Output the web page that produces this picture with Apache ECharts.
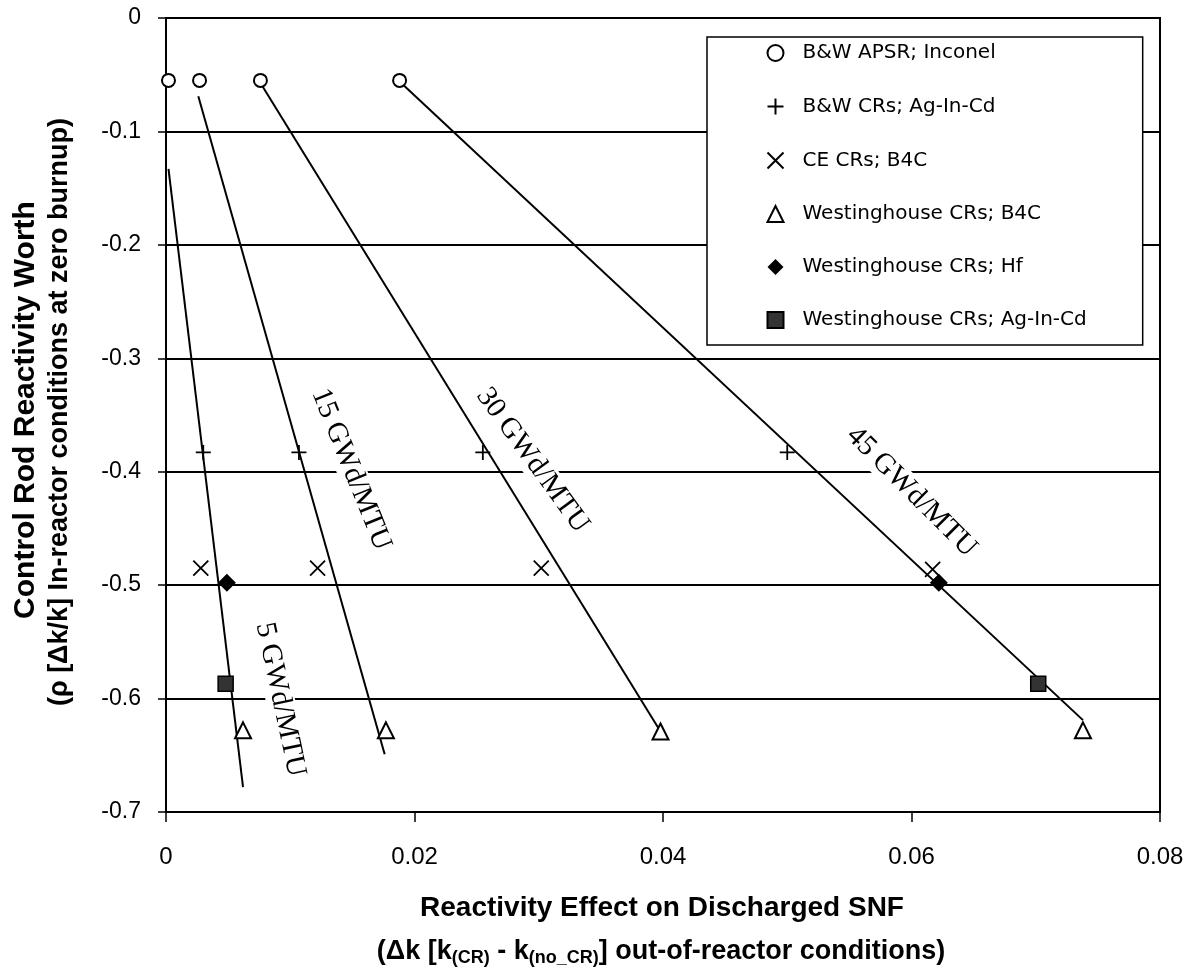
<!DOCTYPE html>
<html>
<head>
<meta charset="utf-8">
<script src="https://cdn.jsdelivr.net/npm/echarts@6/dist/echarts.min.js"></script>
<style>
  html, body { margin: 0; padding: 0; background: #fff; }
  #chart { width: 1193px; height: 972px; }
</style>
</head>
<body>
<div id="chart"></div>
<script>
// marker series, [x, y]
const apsrInconel = [[0.0002, -0.055], [0.0027, -0.055], [0.0076, -0.055], [0.0188, -0.055]]
const bwAgInCd = [[0.0030, -0.383], [0.0107, -0.383], [0.0255, -0.383], [0.0500, -0.383]]
const ceB4C = [[0.0028, -0.485], [0.0122, -0.485], [0.0302, -0.485], [0.0617, -0.486]]
const wB4C = [[0.0062, -0.628], [0.0177, -0.628], [0.0398, -0.629], [0.0738, -0.628]]
const wHf = [[0.0049, -0.498], [0.0622, -0.498]]
const wAgInCd = [[0.0048, -0.587], [0.0702, -0.587]]

// burnup trend lines (end points)
const trend5 = [[0.0002, -0.133], [0.0062, -0.678]]
const trend15 = [[0.0026, -0.069], [0.0176, -0.649]]
const trend30 = [[0.0077, -0.059], [0.0398, -0.629]]
const trend45 = [[0.0188, -0.056], [0.0738, -0.619]]

const burnupNames = ['5 GWd/MTU', '15 GWd/MTU', '30 GWd/MTU', '45 GWd/MTU']

const xTicks = [0, 0.02, 0.04, 0.06, 0.08]
const yTicks = [0, -0.1, -0.2, -0.3, -0.4, -0.5, -0.6, -0.7]

const seriesNames = [
  'B&W APSR; Inconel',
  'B&W CRs; Ag-In-Cd',
  'CE CRs; B4C',
  'Westinghouse CRs; B4C',
  'Westinghouse CRs; Hf',
  'Westinghouse CRs; Ag-In-Cd',
]

// where the burnup labels sit (data coords) and their tilt
const labelSpots = [[0.0092, -0.601], [0.0149, -0.398], [0.0295, -0.390], [0.0600, -0.418]]
const labelTilt = [-78, -68, -54, -45]

const black = '#000'
const sansFont = '"Liberation Sans", Arial, sans-serif'

const chart = echarts.init(document.getElementById('chart'), null, { renderer: 'canvas' })

function markerSeries(name, data, symbol, size, style) {
  return {
    name,
    type: 'scatter',
    data,
    symbol,
    symbolSize: size,
    itemStyle: Object.assign({ opacity: 1 }, style),
    emphasis: { disabled: true },
    z: 5,
  }
}

function trendSeries(data) {
  return {
    type: 'line',
    data,
    symbol: 'none',
    lineStyle: { color: black, width: 2 },
    silent: true,
    z: 3,
  }
}

const hollow = { color: '#fff', borderColor: black, borderWidth: 2 }
const stroked = { color: 'none', borderColor: black, borderWidth: 1.8 }

const option = {
  animation: false,
  backgroundColor: '#fff',
  grid: {
    left: 166, top: 18, right: 33, bottom: 160,
    show: true, borderColor: black, borderWidth: 2, backgroundColor: 'transparent',
  },
  xAxis: {
    type: 'value',
    min: xTicks[0], max: xTicks[xTicks.length - 1], interval: 0.02,
    axisLine: { show: true, onZero: false, lineStyle: { color: black, width: 2 } },
    axisTick: { show: true, length: 10, lineStyle: { color: black, width: 1.5 } },
    splitLine: { show: false },
    axisLabel: {
      margin: 33, color: black, fontFamily: sansFont, fontSize: 24,
      formatter: (v) => (v === 0 ? '0' : v.toFixed(2)),
    },
  },
  yAxis: {
    type: 'value',
    min: yTicks[yTicks.length - 1], max: yTicks[0], interval: 0.1,
    axisLine: { show: true, onZero: false, lineStyle: { color: black, width: 2 } },
    axisTick: { show: true, length: 8, lineStyle: { color: black, width: 1.5 } },
    splitLine: { show: true, lineStyle: { color: black, width: 2 } },
    axisLabel: {
      margin: 25, color: black, fontFamily: sansFont, fontSize: 23,
      formatter: (v) => (Math.abs(v) < 1e-9 ? '0' : v.toFixed(1)),
    },
  },
  legend: {
    data: seriesNames,
    orient: 'vertical',
    left: 707, top: 37,
    padding: [6, 56, 15, 58],
    itemWidth: 16, itemHeight: 16, itemGap: 33,
    backgroundColor: '#fff', borderColor: black, borderWidth: 1.5,
    textStyle: {
      fontFamily: '"DejaVu Sans", sans-serif', fontSize: 20, lineHeight: 20, color: black,
      padding: [0, 0, 0, 14],
    },
    selectedMode: false,
    z: 10,
  },
  graphic: [
    {
      type: 'text', x: 26, y: 410, rotation: Math.PI / 2,
      style: { text: 'Control Rod Reactivity Worth', font: 'bold 30px ' + sansFont, fill: black, align: 'center', verticalAlign: 'middle' },
    },
    {
      type: 'text', x: 60, y: 412, rotation: Math.PI / 2,
      style: { text: '(ρ [Δk/k] In-reactor conditions at zero burnup)', font: 'bold 27px ' + sansFont, fill: black, align: 'center', verticalAlign: 'middle' },
    },
    {
      type: 'text', x: 662, y: 908,
      style: { text: 'Reactivity Effect on Discharged SNF', font: 'bold 28px ' + sansFont, fill: black, align: 'center', verticalAlign: 'middle' },
    },
    {
      type: 'text', x: 661, y: 952,
      style: {
        text: '{b|(Δk [k}{s|(CR)}{b| - k}{s|(no_CR)}{b|] out-of-reactor conditions)}',
        align: 'center', verticalAlign: 'middle', fill: black,
        rich: {
          b: { font: 'bold 27px ' + sansFont, fill: black },
          s: { font: 'bold 18px ' + sansFont, fill: black, padding: [12, 0, 0, 0] },
        },
      },
    },
  ],
  series: [
    trendSeries(trend5),
    trendSeries(trend15),
    trendSeries(trend30),
    trendSeries(trend45),
    markerSeries(seriesNames[0], apsrInconel, 'circle', 13, hollow),
    markerSeries(seriesNames[1], bwAgInCd, 'path://M0,7L14,7M7,0L7,14', 15, stroked),
    markerSeries(seriesNames[2], ceB4C, 'path://M0,0L14,14M14,0L0,14', 15, stroked),
    markerSeries(seriesNames[3], wB4C, 'triangle', 16, hollow),
    markerSeries(seriesNames[4], wHf, 'diamond', 18, { color: black }),
    markerSeries(seriesNames[5], wAgInCd, 'rect', 15, { color: '#333', borderColor: black, borderWidth: 1.5 }),
    {
      type: 'scatter',
      symbolSize: 0,
      silent: true,
      z: 4,
      itemStyle: { opacity: 1 },
      data: burnupNames.map((n, i) => ({
        name: n,
        value: labelSpots[i],
        label: { rotate: labelTilt[i] },
      })),
      label: {
        show: true,
        position: 'inside',
        formatter: (p) => p.name,
        fontFamily: '"Liberation Serif", "Times New Roman", serif',
        fontSize: 29,
        color: black,
        opacity: 1,
        backgroundColor: '#fff',
        padding: [0, 2],
      },
    },
  ],
}

chart.setOption(option)
</script>
</body>
</html>
